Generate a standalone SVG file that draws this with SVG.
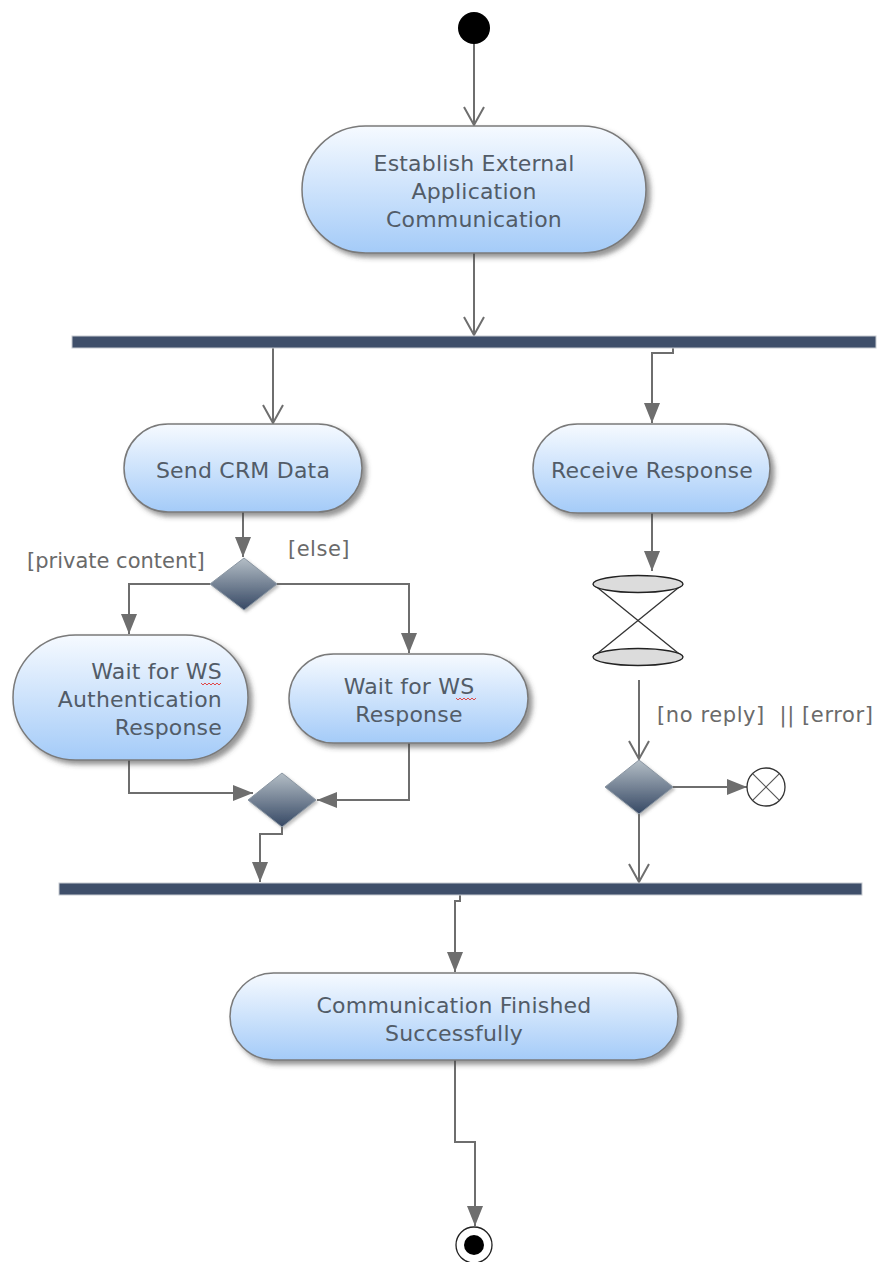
<svg xmlns="http://www.w3.org/2000/svg" width="878" height="1262" viewBox="0 0 878 1262">
  <defs>
    <linearGradient id="actFill" x1="0" y1="0" x2="0" y2="1">
      <stop offset="0" stop-color="#f6faff"/>
      <stop offset="1" stop-color="#a4cbf8"/>
    </linearGradient>
    <linearGradient id="decFill" x1="0" y1="0" x2="0" y2="1">
      <stop offset="0" stop-color="#b4bec6"/>
      <stop offset="1" stop-color="#364864"/>
    </linearGradient>
    <filter id="shadow" x="-10%" y="-10%" width="125%" height="130%">
      <feDropShadow dx="4" dy="4" stdDeviation="2.5" flood-color="#404040" flood-opacity="0.55"/>
    </filter>
    <filter id="softShadow" x="-10%" y="-20%" width="125%" height="150%">
      <feDropShadow dx="2" dy="2" stdDeviation="1.5" flood-color="#606060" flood-opacity="0.4"/>
    </filter>
    <marker id="open" viewBox="0 0 20 22" refX="19" refY="11" markerWidth="20" markerHeight="22" markerUnits="userSpaceOnUse" orient="auto">
      <path d="M1,1 L19,11 L1,21" fill="none" stroke="#6e6e6e" stroke-width="2"/>
    </marker>
    <marker id="filled" viewBox="0 0 20 16" refX="20" refY="8" markerWidth="20" markerHeight="16" markerUnits="userSpaceOnUse" orient="auto">
      <path d="M0,0 L20,8 L0,16 Z" fill="#6e6e6e"/>
    </marker>
  </defs>
  <style>
    .act { fill: url(#actFill); stroke: #7a7a7a; stroke-width: 1.5; filter: url(#shadow); }
    .dec { fill: url(#decFill); stroke: #8a96a2; stroke-width: 1; filter: url(#softShadow); }
    .bar { fill: #3f4f6a; stroke: #c8ccd2; stroke-width: 1; }
    .lbl { font-family: "DejaVu Sans", Verdana, sans-serif; font-size: 22px; fill: #525c68; letter-spacing: 0.2px; }
    .guard { font-family: "DejaVu Sans", Verdana, sans-serif; font-size: 21px; fill: #6a6a6a; }
    .c { text-anchor: middle; }
    .r { text-anchor: end; }
    .flow { fill: none; stroke: #6e6e6e; stroke-width: 2; }
    .spell { fill: none; stroke: #e04848; stroke-width: 1; }
  </style>

  <!-- control flows -->
  <g id="connectors">
    <path class="flow" d="M474,43 V125" marker-end="url(#open)"/>
    <path class="flow" d="M474,253 V335" marker-end="url(#open)"/>
    <path class="flow" d="M273,348 V423" marker-end="url(#open)"/>
    <path class="flow" d="M673,348 V353 H652 V423" marker-end="url(#filled)"/>
    <path class="flow" d="M243,512 V557" marker-end="url(#filled)"/>
    <path class="flow" d="M210,584 H129 V634" marker-end="url(#filled)"/>
    <path class="flow" d="M277,584 H409 V653" marker-end="url(#filled)"/>
    <path class="flow" d="M129,760 V793 H253" marker-end="url(#filled)"/>
    <path class="flow" d="M409,743 V800 H317" marker-end="url(#filled)"/>
    <path class="flow" d="M282,827 V834 H260 V882" marker-end="url(#filled)"/>
    <path class="flow" d="M652,513 V571" marker-end="url(#filled)"/>
    <path class="flow" d="M639,680 V759" marker-end="url(#open)"/>
    <path class="flow" d="M673,787 H747" marker-end="url(#filled)"/>
    <path class="flow" d="M639,814 V882" marker-end="url(#open)"/>
    <path class="flow" d="M460,895 V901 H455 V972" marker-end="url(#filled)"/>
    <path class="flow" d="M455,1060 V1142 H475 V1226" marker-end="url(#filled)"/>
    <text class="guard" x="27" y="568">[private content]</text>
    <text class="guard" x="288" y="556" letter-spacing="0.5">[else]</text>
    <text class="guard" x="657" y="722" letter-spacing="0.6" xml:space="preserve">[no reply]  || [error]</text>
  </g>

  <g id="start">
    <circle cx="474" cy="28" r="16" fill="#000"/>
  </g>

  <g id="establish">
    <rect class="act" x="302" y="126" width="344" height="127" rx="63.5"/>
    <text class="lbl c" x="474" y="171">Establish External</text>
    <text class="lbl c" x="474" y="199">Application</text>
    <text class="lbl c" x="474" y="227">Communication</text>
  </g>

  <g id="fork">
    <rect class="bar" x="72" y="336" width="804" height="12"/>
  </g>

  <g id="send-crm">
    <rect class="act" x="124" y="424" width="238" height="88" rx="44"/>
    <text class="lbl c" x="243" y="478">Send CRM Data</text>
  </g>

  <g id="receive">
    <rect class="act" x="533" y="424" width="237" height="89" rx="44.5"/>
    <text class="lbl c" x="652" y="478">Receive Response</text>
  </g>

  <g id="content-decision">
    <polygon class="dec" points="244,558 277,584 244,610 210,584"/>
  </g>

  <g id="wait-auth">
    <rect class="act" x="13" y="635" width="235" height="125" rx="62.5"/>
    <text class="lbl r" x="222" y="679">Wait for WS</text>
    <text class="lbl r" x="222" y="707">Authentication</text>
    <text class="lbl r" x="222" y="735">Response</text>
    <path class="spell" d="M201,683 l2,2 l2,-2 l2,2 l2,-2 l2,2 l2,-2 l2,2 l2,-2 l2,2 l2,-2"/>
  </g>

  <g id="wait-ws">
    <rect class="act" x="289" y="654" width="239" height="89" rx="44.5"/>
    <text class="lbl c" x="409" y="694">Wait for WS</text>
    <text class="lbl c" x="409" y="722">Response</text>
    <path class="spell" d="M456,698 l2,2 l2,-2 l2,2 l2,-2 l2,2 l2,-2 l2,2 l2,-2 l2,2 l2,-2"/>
  </g>

  <g id="merge">
    <polygon class="dec" points="282,773 316,800 282,827 248,800"/>
  </g>

  <g id="timer">
    <line x1="593" y1="584" x2="683" y2="657" stroke="#333" stroke-width="1.3"/>
    <line x1="683" y1="584" x2="593" y2="657" stroke="#333" stroke-width="1.3"/>
    <ellipse cx="638" cy="584" rx="45" ry="8.5" fill="#dcdcdc" stroke="#222" stroke-width="1.3"/>
    <ellipse cx="638" cy="657" rx="45" ry="8.5" fill="#dcdcdc" stroke="#222" stroke-width="1.3"/>
  </g>

  <g id="reply-decision">
    <polygon class="dec" points="639,760 673,787 639,814 605,787"/>
  </g>

  <g id="flow-final">
    <circle cx="766" cy="787" r="19" fill="#fff" stroke="#333" stroke-width="1.3"/>
    <line x1="752.6" y1="773.6" x2="779.4" y2="800.4" stroke="#555" stroke-width="1.2"/>
    <line x1="779.4" y1="773.6" x2="752.6" y2="800.4" stroke="#555" stroke-width="1.2"/>
  </g>

  <g id="join">
    <rect class="bar" x="59" y="883" width="803" height="12"/>
  </g>

  <g id="finished">
    <rect class="act" x="230" y="973" width="448" height="87" rx="43.5"/>
    <text class="lbl c" x="454" y="1013">Communication Finished</text>
    <text class="lbl c" x="454" y="1041">Successfully</text>
  </g>

  <g id="end">
    <circle cx="474" cy="1245" r="18" fill="#fff" stroke="#222" stroke-width="1.3"/>
    <circle cx="474" cy="1245" r="10" fill="#000"/>
  </g>
</svg>
